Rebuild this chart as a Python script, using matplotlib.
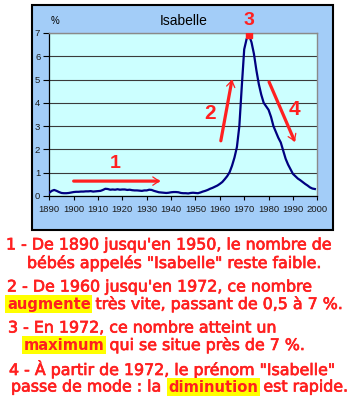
import matplotlib
matplotlib.use("Agg")
import matplotlib.pyplot as plt
import matplotlib.patheffects as pe
from matplotlib.patches import Rectangle

# ---------------------------------------------------------------------
# Data (share of babies named "Isabelle", % per birth year)
# ---------------------------------------------------------------------
years = list(range(1890, 2000))
share_pct = [
    0.14, 0.22, 0.26, 0.22, 0.17, 0.13, 0.12, 0.12, 0.13, 0.15,   # 1890s
    0.17, 0.18, 0.18, 0.19, 0.19, 0.20, 0.20, 0.21, 0.19, 0.20,   # 1900s
    0.21, 0.22, 0.26, 0.31, 0.30, 0.27, 0.28, 0.27, 0.29, 0.27,   # 1910s
    0.28, 0.28, 0.26, 0.27, 0.25, 0.24, 0.24, 0.23, 0.22, 0.24,   # 1920s
    0.24, 0.27, 0.26, 0.22, 0.19, 0.16, 0.15, 0.14, 0.13, 0.14,   # 1930s
    0.16, 0.17, 0.17, 0.16, 0.13, 0.12, 0.12, 0.11, 0.13, 0.14,   # 1940s
    0.13, 0.12, 0.15, 0.19, 0.22, 0.26, 0.31, 0.35, 0.40, 0.45,   # 1950s
    0.52, 0.60, 0.72, 0.85, 1.02, 1.30, 1.65, 2.10, 3.00, 4.70,   # 1960s
    6.30, 6.75, 6.90, 6.60, 6.10, 5.40, 4.80, 4.35, 4.00, 3.85,   # 1970s
    3.70, 3.40, 3.00, 2.75, 2.50, 2.30, 1.95, 1.60, 1.35, 1.15,   # 1980s
    0.95, 0.85, 0.75, 0.68, 0.60, 0.52, 0.45, 0.37, 0.32, 0.30,   # 1990s
]
peak_year = 1972
peak_value = 6.90

x_ticks = list(range(1890, 2001, 10))
y_ticks = list(range(0, 8))

title = "Isabelle"
unit_label = "%"

# caption lines: (text, highlighted) pieces
captions = [
    [("1 - De 1890 jusqu'en 1950, le nombre de", False)],
    [("bébés appelés \"Isabelle\" reste faible.", False)],
    [("2 - De 1960 jusqu'en 1972, ce nombre", False)],
    [("augmente", True), ("très vite, passant de 0,5 à 7 %.", False)],
    [("3 - En 1972, ce nombre atteint un", False)],
    [("maximum", True), ("qui se situe près de 7 %.", False)],
    [("4 - À partir de 1972, le prénom \"Isabelle\"", False)],
    [("passe de mode : la", False), ("diminution", True), ("est rapide.", False)],
]

RED = "#FF2020"
NAVY = "#000080"
W, H = 352, 403


# ---------------------------------------------------------------------
# Helpers
# ---------------------------------------------------------------------
def fig_box(x0, y0, x1, y1):
    """pixel box (top-left origin) -> figure fraction [l, b, w, h]"""
    return [x0 / W, 1 - y1 / H, (x1 - x0) / W, (y1 - y0) / H]


def draw_caption(ax, x, y, pieces, size=11.4, gap=3.4):
    prev = None
    for text, hl in pieces:
        kw = dict(fontsize=size, color=RED, va="center", ha="left", family="DejaVu Sans",
                  path_effects=[pe.withStroke(linewidth=0.5, foreground=RED)])
        if hl:
            kw.update(weight="bold", fontsize=size - 0.8, path_effects=[],
                      bbox=dict(facecolor="#FFFF00", edgecolor="none", pad=1.2))
        if prev is None:
            prev = ax.text(x, y, text, **kw)
        else:
            prev = ax.annotate(text, xy=(1, 0.5), xycoords=prev,
                               xytext=(gap + (1.2 if hl else 0), 0),
                               textcoords="offset points", **kw)
    return prev


def red_arrow(ax, start, end, back=0.25):
    # thick shaft + thin open head
    ax.annotate("", xy=end, xytext=start,
                arrowprops=dict(arrowstyle="-", color=RED, lw=2.3,
                                shrinkA=0, shrinkB=1.5))
    hx = end[0] - (end[0] - start[0]) * back
    hy = end[1] - (end[1] - start[1]) * back
    ax.annotate("", xy=end, xytext=(hx, hy),
                arrowprops=dict(arrowstyle="->,head_length=0.45,head_width=0.3",
                                color=RED, lw=0.9, shrinkA=0, shrinkB=0))


# ---------------------------------------------------------------------
# Main
# ---------------------------------------------------------------------
def main():
    fig = plt.figure(figsize=(W / 100, H / 100), dpi=100)

    # background layer in pixel coordinates (chart frame + captions)
    bg = fig.add_axes([0, 0, 1, 1])
    bg.set_xlim(0, W)
    bg.set_ylim(H, 0)
    bg.axis("off")
    bg.add_patch(Rectangle((32, 5), 301, 225, facecolor="#A3CDF8",
                           edgecolor="black", lw=1.5))

    # --- chart
    ax = fig.add_axes(fig_box(49.3, 33, 317.3, 196))
    ax.set_facecolor("#CCFFFF")
    ax.plot(years, share_pct, color=NAVY, lw=1.6, solid_joinstyle="round", zorder=3)
    ax.plot([peak_year], [peak_value], "s", color=RED, ms=4.2, zorder=4)

    ax.set_xlim(1890, 2000)
    ax.set_ylim(0, 7)
    ax.set_xticks(x_ticks)
    ax.set_yticks(y_ticks)
    ax.tick_params(axis="x", direction="out", length=3, width=0.8, pad=3.5,
                   labelsize=6.8, labelcolor="#1a1a1a")
    ax.tick_params(axis="y", direction="out", length=4, width=0.8, pad=2.5,
                   labelsize=6.8, labelcolor="#1a1a1a")
    for lab in ax.get_xticklabels() + ax.get_yticklabels():
        lab.set_family("Liberation Sans")
    ax.grid(axis="y", color="#3a3a3a", lw=0.8)
    ax.set_axisbelow(True)
    for side in ("top", "right"):
        ax.spines[side].set_color("#8a8a8a")
        ax.spines[side].set_linewidth(1.0)
    for side in ("left", "bottom"):
        ax.spines[side].set_color("black")
        ax.spines[side].set_linewidth(0.9)

    ax.text(0.5, 1.075, title, transform=ax.transAxes, ha="center", va="center",
            fontsize=10, family="Liberation Sans")
    ax.text(0.023, 1.075, unit_label, transform=ax.transAxes, ha="center", va="center",
            fontsize=7, family="Liberation Sans")

    # --- red annotations
    red_arrow(ax, (1900.0, 0.64), (1935.5, 0.64), back=0.08)
    red_arrow(ax, (1960.4, 2.37), (1965.0, 5.0), back=0.12)
    red_arrow(ax, (1980.2, 4.9), (1990.8, 2.33), back=0.12)
    num_kw = dict(color=RED, weight="bold", ha="center", va="center",
                  family="Liberation Sans", clip_on=False)
    ax.text(1917.0, 1.40, "1", fontsize=14, **num_kw)
    ax.text(1956.0, 3.56, "2", fontsize=15, **num_kw)
    ax.text(1972.0, 7.55, "3", fontsize=14, **num_kw)
    ax.text(1990.8, 3.70, "4", fontsize=15, **num_kw)

    # --- captions
    starts = [(6, 245), (27, 263), (7, 287), (7, 304),
              (8, 328), (24, 345), (9, 369), (11, 387)]
    for (x, y), pieces in zip(starts, captions):
        draw_caption(bg, x, y, pieces)

    fig.savefig("out.png", dpi=100)
    plt.close(fig)


if __name__ == "__main__":
    main()
